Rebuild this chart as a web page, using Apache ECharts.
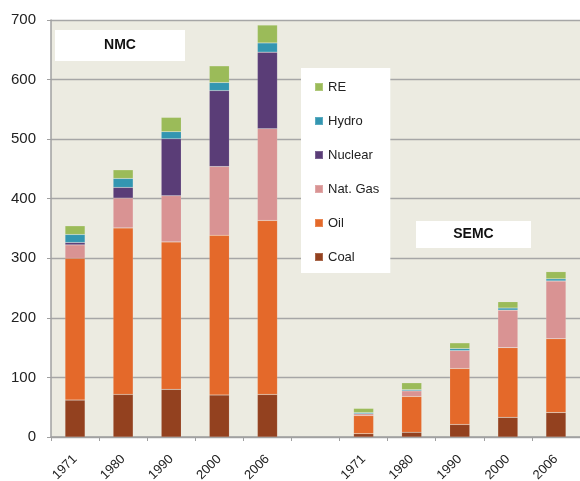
<!DOCTYPE html>
<html>
<head>
<meta charset="utf-8">
<script src="https://cdn.jsdelivr.net/npm/echarts@6/dist/echarts.min.js"></script>
<style>
  html, body { margin: 0; padding: 0; background: #fff; }
  #main { width: 580px; height: 481px; }
</style>
</head>
<body>
<div id="main"></div>
<script>
// categories: NMC years, a blank gap, then SEMC years
var years = ["1971", "1980", "1990", "2000", "2006", "", "1971", "1980", "1990", "2000", "2006"];
var yTicks = [0, 100, 200, 300, 400, 500, 600, 700];

// stacked values
var coal    = [62, 71.5, 80, 70.5, 71.5, null, 5.5, 8, 21, 33, 41];
var oil     = [238, 279.5, 247.5, 268, 292, null, 30.5, 60, 94, 117, 124];
var natGas  = [22.5, 50, 77.5, 115.5, 154, null, 3, 9.5, 30, 63, 97];
var nuclear = [4, 18, 95.5, 127.5, 128.5, null, 0, 0, 0, 0, 0];
var hydro   = [13.5, 15, 12, 13.5, 15.5, null, 2, 2, 3.5, 3.5, 3.5];
var re      = [14.5, 14.5, 24, 28, 30, null, 7, 11.5, 9.5, 10.5, 12];

var seriesNames = ["Coal", "Oil", "Nat. Gas", "Nuclear", "Hydro", "RE"];
var seriesData = [coal, oil, natGas, nuclear, hydro, re];
var colors = ["#93411f", "#e4692a", "#d99393", "#5a3d77", "#3396b1", "#9bbb59"];

var myChart = echarts.init(document.getElementById("main"));

var series = [];
for (var i = 0; i < seriesNames.length; i++) {
  series.push({
    name: seriesNames[i],
    type: "bar",
    stack: "total",
    barWidth: 20,
    data: seriesData[i],
    itemStyle: {
      color: colors[i],
      borderColor: "rgba(255,255,255,0.2)",
      borderWidth: 0.5
    }
  });
}

var option = {
  animation: false,
  color: colors,
  textStyle: { fontFamily: "Liberation Sans, Arial, sans-serif" },
  grid: {
    left: 51, top: 20, right: 0, bottom: 44,
    outerBoundsMode: "none",
    containLabel: false,
    show: true, backgroundColor: "#ecebe1", borderWidth: 0
  },
  legend: {
    data: ["RE", "Hydro", "Nuclear", "Nat. Gas", "Oil", "Coal"],
    orient: "vertical",
    left: 301,
    top: 68,
    backgroundColor: "#fff",
    padding: [12, 11, 9, 13],
    itemWidth: 8,
    itemHeight: 8,
    itemGap: 20,
    icon: "rect",
    textStyle: { fontSize: 13, color: "#222", lineHeight: 14 }
  },
  xAxis: {
    type: "category",
    data: years,
    axisLine: { lineStyle: { color: "#a0a0a0", width: 1.5 } },
    axisTick: { show: true, length: 4, lineStyle: { color: "#a0a0a0" } },
    axisLabel: { rotate: 45, fontSize: 13, color: "#222", margin: 20, interval: 0 }
  },
  yAxis: {
    type: "value",
    min: yTicks[0],
    max: yTicks[yTicks.length - 1],
    interval: 100,
    axisLine: { show: true, lineStyle: { color: "#a0a0a0", width: 1.5 } },
    axisTick: { show: true, length: 4, lineStyle: { color: "#a0a0a0" } },
    axisLabel: { fontSize: 15, color: "#222", margin: 15 },
    splitLine: { lineStyle: { color: "#a6a6a6", width: 1.3 } }
  },
  graphic: [
    {
      type: "group", left: 55, top: 30,
      children: [
        { type: "rect", shape: { x: 0, y: 0, width: 130, height: 31 }, style: { fill: "#fff" } },
        { type: "text", x: 65, y: 15.5, style: { text: "NMC", font: "bold 14px Liberation Sans, Arial", fill: "#111", align: "center", verticalAlign: "middle" } }
      ]
    },
    {
      type: "group", left: 416, top: 221,
      children: [
        { type: "rect", shape: { x: 0, y: 0, width: 115, height: 27 }, style: { fill: "#fff" } },
        { type: "text", x: 57.5, y: 13.5, style: { text: "SEMC", font: "bold 14px Liberation Sans, Arial", fill: "#111", align: "center", verticalAlign: "middle" } }
      ]
    }
  ],
  series: series
};

myChart.setOption(option);
</script>
</body>
</html>
